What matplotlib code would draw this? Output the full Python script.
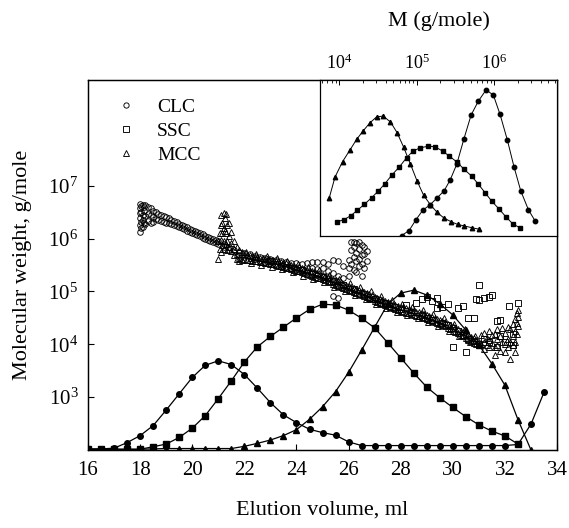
import matplotlib
matplotlib.use('Agg')
import matplotlib.pyplot as plt
import numpy as np
from matplotlib.lines import Line2D
from matplotlib.ticker import NullLocator, LogLocator, NullFormatter

plt.rcParams['font.family'] = 'Liberation Serif'
plt.rcParams['mathtext.fontset'] = 'custom'
plt.rcParams['mathtext.rm'] = 'Liberation Serif'
plt.rcParams['axes.linewidth'] = 0.9

# --- elution profiles (arbitrary units, 0 = baseline, 1 = top of frame) ---
clc_peak_ml = [16, 16.5, 17, 17.5, 18, 18.5, 19, 19.5, 20, 20.5, 21, 21.5, 22, 22.5, 23, 23.5,
               24, 24.5, 25, 25.5, 26, 26.5, 27, 27.5, 28, 28.5, 29, 29.5, 30, 30.5, 31, 31.5,
               32, 32.5, 33, 33.5]
clc_peak = [0.003, 0.003, 0.005, 0.020, 0.039, 0.066, 0.108, 0.152, 0.196, 0.229, 0.241, 0.231,
            0.204, 0.167, 0.128, 0.095, 0.074, 0.056, 0.047, 0.040, 0.022, 0.012, 0.012, 0.012,
            0.012, 0.012, 0.012, 0.012, 0.012, 0.012, 0.012, 0.012, 0.012, 0.015, 0.070, 0.156]

ssc_peak_ml = [16, 16.5, 17, 17.5, 18, 18.5, 19, 19.5, 20, 20.5, 21, 21.5, 22, 22.5, 23, 23.5,
               24, 24.5, 25, 25.5, 26, 26.5, 27, 27.5, 28, 28.5, 29, 29.5, 30, 30.5, 31, 31.5,
               32, 32.5]
ssc_peak = [0.002, 0.002, 0.002, 0.002, 0.002, 0.009, 0.016, 0.034, 0.059, 0.093, 0.139, 0.187,
            0.238, 0.279, 0.307, 0.332, 0.357, 0.380, 0.394, 0.392, 0.378, 0.356, 0.330, 0.290,
            0.249, 0.208, 0.170, 0.141, 0.115, 0.090, 0.068, 0.051, 0.038, 0.016]

mcc_peak_ml = [16, 16.5, 17, 17.5, 18, 18.5, 19, 19.5, 20, 20.5, 21, 21.5, 22, 22.5, 23, 23.5,
               24, 24.5, 25, 25.5, 26, 26.5, 27, 27.5, 28, 28.5, 29, 29.5, 30, 30.5, 31, 31.5,
               32, 32.5, 33]
mcc_peak = [0.002, 0.002, 0.002, 0.002, 0.002, 0.003, 0.004, 0.004, 0.004, 0.004, 0.004, 0.004,
            0.010, 0.018, 0.027, 0.039, 0.055, 0.083, 0.117, 0.158, 0.210, 0.270, 0.332, 0.394,
            0.424, 0.432, 0.419, 0.395, 0.365, 0.324, 0.284, 0.233, 0.175, 0.082, 0.0]

# --- molecular weight vs elution volume (log10 M) ---
clc_ml = [18.0, 18.0, 18.0, 18.0, 18.0, 18.0,
          18.05, 18.05, 18.05, 18.05,
          18.1, 18.1, 18.1, 18.1,
          18.15, 18.15, 18.15,
          18.2, 18.2, 18.2,
          18.3, 18.3, 18.3,
          18.4, 18.4, 18.4,
          18.5, 18.5, 18.5,
          18.6, 18.6, 18.7, 18.7, 18.8, 18.8, 18.9, 18.9,
          19.0, 19.0, 19.1, 19.1, 19.2, 19.2, 19.3, 19.3, 19.4, 19.4,
          19.5, 19.5, 19.6, 19.6, 19.7, 19.7, 19.8, 19.8, 19.9, 19.9,
          20.0, 20.0, 20.1, 20.1, 20.2, 20.2, 20.3, 20.3, 20.4, 20.4,
          20.5, 20.5, 20.6, 20.6, 20.7, 20.7, 20.8, 20.8, 20.9, 20.9,
          21.0, 21.0, 21.2, 21.2, 21.4, 21.4, 21.6, 21.6, 21.8, 21.8,
          22.0, 22.0, 22.2, 22.2, 22.4, 22.4, 22.6, 22.6, 22.8, 22.8,
          23.0, 23.0, 23.2, 23.2, 23.4, 23.4, 23.6, 23.6, 23.8, 23.8,
          24.0, 24.0, 24.2, 24.2, 24.4, 24.4,
          24.6, 24.6, 24.6, 24.8, 24.8, 24.8, 25.0, 25.0, 25.0,
          25.2, 25.2, 25.2, 25.4, 25.4, 25.4, 25.4,
          25.6, 25.6, 25.6, 25.6, 25.8, 25.8, 25.8,
          26.0, 26.0, 26.0, 26.0, 26.1, 26.1, 26.1,
          26.2, 26.2, 26.2, 26.2, 26.2, 26.3, 26.3, 26.3, 26.3,
          26.4, 26.4, 26.4, 26.4, 26.5, 26.5, 26.5, 26.5, 26.5,
          26.6, 26.6, 26.6, 26.7, 26.7, 26.8, 26.8,
          27.0, 27.0, 27.2, 27.2, 27.4, 27.4]
clc_logm = [6.66, 6.58, 6.48, 6.38, 6.25, 6.13,
            6.62, 6.50, 6.32, 6.20,
            6.64, 6.45, 6.36, 6.22,
            6.60, 6.52, 6.30,
            6.63, 6.42, 6.28,
            6.60, 6.47, 6.33,
            6.58, 6.44, 6.30,
            6.52, 6.40, 6.32,
            6.50, 6.37, 6.46, 6.35, 6.44, 6.33, 6.42, 6.32,
            6.40, 6.30, 6.38, 6.29, 6.36, 6.28, 6.33, 6.26, 6.31, 6.24,
            6.28, 6.22, 6.26, 6.20, 6.24, 6.18, 6.21, 6.15, 6.18, 6.13,
            6.16, 6.10, 6.14, 6.08, 6.12, 6.06, 6.10, 6.04, 6.08, 6.02,
            6.05, 6.00, 6.03, 5.98, 6.01, 5.96, 5.99, 5.94, 5.97, 5.92,
            5.95, 5.90, 5.90, 5.85, 5.84, 5.79, 5.79, 5.74, 5.75, 5.69,
            5.72, 5.66, 5.70, 5.63, 5.67, 5.61, 5.65, 5.58, 5.63, 5.56,
            5.61, 5.54, 5.59, 5.52, 5.57, 5.50, 5.56, 5.47, 5.54, 5.44,
            5.53, 5.42, 5.52, 5.40, 5.53, 5.37,
            5.55, 5.35, 5.44, 5.56, 5.31, 5.42, 5.56, 5.27, 5.45,
            5.52, 5.23, 5.38, 5.60, 5.18, 5.34, 4.92,
            5.58, 5.14, 5.30, 4.88, 5.48, 5.10, 5.25,
            5.60, 5.06, 5.30, 5.44, 5.93, 5.78, 5.52,
            5.94, 5.84, 5.66, 5.40, 5.02, 5.91, 5.72, 5.58, 5.36,
            5.94, 5.80, 5.62, 5.48, 5.88, 5.68, 5.52, 5.30, 4.97,
            5.84, 5.70, 5.44, 5.76, 5.58, 4.90, 4.86,
            4.87, 4.83, 4.83, 4.79, 4.79, 4.76]

mcc_ml = [21.0, 21.0, 21.05, 21.05, 21.1, 21.1, 21.1, 21.1,
          21.15, 21.15, 21.15, 21.2, 21.2, 21.2, 21.2,
          21.25, 21.25, 21.3, 21.3, 21.3, 21.35, 21.35, 21.35,
          21.4, 21.4, 21.4, 21.5, 21.5, 21.5,
          21.6, 21.6, 21.6, 21.7, 21.7, 21.7,
          21.8, 21.8, 21.8, 21.9, 21.9,
          22.0, 22.0, 22.1, 22.1, 22.2, 22.2, 22.3, 22.3, 22.4, 22.4,
          22.5, 22.5, 22.6, 22.6, 22.7, 22.7, 22.8, 22.8, 22.9, 22.9,
          23.0, 23.0, 23.1, 23.1, 23.2, 23.2, 23.3, 23.3, 23.4, 23.4,
          23.5, 23.5, 23.6, 23.6, 23.7, 23.7, 23.8, 23.8, 23.9, 23.9,
          24.0, 24.0, 24.1, 24.1, 24.2, 24.2, 24.3, 24.3, 24.4, 24.4,
          24.5, 24.5, 24.6, 24.6, 24.7, 24.7, 24.8, 24.8, 24.9, 24.9,
          25.0, 25.0, 25.1, 25.1, 25.2, 25.2, 25.3, 25.3, 25.4, 25.4,
          25.5, 25.5, 25.6, 25.6, 25.7, 25.7, 25.8, 25.8, 25.9, 25.9,
          26.0, 26.0, 26.1, 26.1, 26.2, 26.2, 26.3, 26.3, 26.4, 26.4,
          26.5, 26.5, 26.6, 26.6, 26.7, 26.7, 26.8, 26.8, 26.9, 26.9,
          27.0, 27.0, 27.1, 27.1, 27.2, 27.2, 27.3, 27.3, 27.4, 27.4,
          27.5, 27.5, 27.6, 27.6, 27.7, 27.7, 27.8, 27.8, 27.9, 27.9,
          28.0, 28.0, 28.1, 28.1, 28.2, 28.2, 28.3, 28.3, 28.4, 28.4,
          28.5, 28.5, 28.6, 28.6, 28.7, 28.7, 28.8, 28.8, 28.9, 28.9,
          29.0, 29.0, 29.1, 29.1, 29.2, 29.2, 29.3, 29.3, 29.4, 29.4,
          29.5, 29.5, 29.6, 29.6, 29.7, 29.7, 29.8, 29.8, 29.9, 29.9,
          30.0, 30.0, 30.1, 30.1, 30.2, 30.2, 30.3, 30.3, 30.4, 30.4,
          30.5, 30.5, 30.6, 30.6, 30.7, 30.7, 30.8, 30.8, 30.9, 30.9,
          31.0, 31.0, 31.1, 31.1, 31.2, 31.2, 31.2,
          31.3, 31.3, 31.4, 31.4, 31.4, 31.5, 31.5,
          31.6, 31.6, 31.6, 31.7, 31.7, 31.7, 31.8, 31.8,
          31.9, 31.9, 32.0, 32.0, 32.0, 32.1, 32.1, 32.1,
          32.2, 32.2, 32.2, 32.3, 32.3, 32.3,
          32.4, 32.4, 32.4, 32.4, 32.45, 32.45, 32.45, 32.5, 32.5, 32.5,
          22.05, 22.25, 22.45, 22.65, 22.85, 23.05, 23.25, 23.45, 23.65, 23.85,
          24.05, 24.25, 24.45, 24.65, 24.85, 25.05, 25.25, 25.45, 25.65, 25.85,
          26.05, 26.25, 26.45, 26.65, 26.85, 27.05, 27.25, 27.45, 27.65, 27.85,
          28.05, 28.25, 28.45, 28.65, 28.85, 29.05, 29.25, 29.45, 29.65, 29.85,
          30.05, 30.25, 30.45, 30.65, 30.85]
mcc_logm = [5.95, 5.62, 6.10, 5.80, 6.44, 6.25, 5.98, 5.75,
            6.30, 6.10, 5.88, 6.48, 6.20, 5.95, 5.80,
            6.38, 6.15, 6.46, 6.10, 5.90, 6.25, 5.95, 5.78,
            6.30, 6.05, 5.85, 6.12, 5.92, 5.76,
            5.95, 5.80, 5.68, 5.85, 5.70, 5.62,
            5.78, 5.64, 5.58, 5.74, 5.60,
            5.71, 5.61, 5.69, 5.60, 5.69, 5.59, 5.67, 5.58, 5.66, 5.57,
            5.66, 5.57, 5.64, 5.56, 5.63, 5.55, 5.62, 5.54, 5.61, 5.53,
            5.60, 5.52, 5.59, 5.51, 5.58, 5.50, 5.57, 5.49, 5.56, 5.48,
            5.54, 5.46, 5.53, 5.45, 5.52, 5.44, 5.50, 5.42, 5.49, 5.41,
            5.47, 5.39, 5.46, 5.38, 5.44, 5.36, 5.43, 5.35, 5.41, 5.33,
            5.39, 5.31, 5.38, 5.30, 5.36, 5.28, 5.34, 5.26, 5.33, 5.25,
            5.31, 5.23, 5.29, 5.21, 5.27, 5.19, 5.25, 5.17, 5.23, 5.15,
            5.21, 5.13, 5.19, 5.11, 5.17, 5.09, 5.15, 5.07, 5.13, 5.05,
            5.11, 5.03, 5.09, 5.01, 5.07, 4.99, 5.05, 4.97, 5.03, 4.95,
            5.01, 4.93, 4.99, 4.91, 4.97, 4.89, 4.95, 4.87, 4.93, 4.85,
            4.90, 4.82, 4.88, 4.80, 4.86, 4.78, 4.84, 4.76, 4.82, 4.74,
            4.80, 4.72, 4.78, 4.70, 4.76, 4.68, 4.74, 4.66, 4.73, 4.65,
            4.71, 4.63, 4.70, 4.62, 4.68, 4.60, 4.67, 4.59, 4.65, 4.57,
            4.64, 4.56, 4.62, 4.54, 4.61, 4.53, 4.59, 4.51, 4.57, 4.49,
            4.56, 4.48, 4.54, 4.46, 4.52, 4.44, 4.50, 4.42, 4.48, 4.40,
            4.46, 4.38, 4.44, 4.36, 4.42, 4.34, 4.39, 4.31, 4.37, 4.29,
            4.34, 4.26, 4.31, 4.23, 4.29, 4.21, 4.26, 4.18, 4.23, 4.15,
            4.20, 4.12, 4.17, 4.09, 4.14, 4.06, 4.11, 4.03, 4.08, 4.00,
            4.05, 3.98, 4.18, 4.00, 4.22, 4.05, 3.92,
            4.12, 3.98, 4.25, 4.08, 3.95, 4.18, 4.02,
            4.20, 3.95, 3.80, 4.28, 4.10, 3.98, 4.15, 3.88,
            4.30, 4.05, 4.22, 4.00, 3.85, 4.32, 4.10, 3.95,
            4.28, 4.05, 3.72, 4.38, 4.15, 3.98,
            4.48, 4.25, 4.05, 3.86, 4.60, 4.40, 4.20, 4.65, 4.52, 4.35,
            5.75, 5.54, 5.71, 5.50, 5.67, 5.46, 5.64, 5.42, 5.58, 5.36,
            5.52, 5.30, 5.46, 5.24, 5.40, 5.17, 5.32, 5.09, 5.24, 5.01,
            5.16, 4.93, 5.08, 4.86, 5.00, 4.76, 4.91, 4.69, 4.83, 4.62,
            4.76, 4.55, 4.70, 4.49, 4.64, 4.43, 4.57, 4.35, 4.49, 4.26,
            4.39, 4.15, 4.28, 4.04, 4.16]

ssc_ml = [23.0, 23.4, 23.8, 24.2, 24.6, 25.0, 25.4, 25.8,
          26.2, 26.6, 27.0, 27.4, 27.8, 28.0, 28.2, 28.4,
          28.6, 28.8, 28.8, 29.0, 29.0, 29.2, 29.2, 29.4, 29.4,
          29.6, 29.6, 29.8, 29.8, 30.0, 30.0, 30.2, 30.2,
          30.4, 30.4, 30.5, 30.6, 30.6, 30.8, 30.8, 30.9,
          31.0, 31.0, 31.0, 31.2, 31.2, 31.4, 31.4, 31.5,
          31.7, 31.7, 31.8, 31.8, 32.0, 32.15, 32.3, 32.3, 32.5]
ssc_logm = [5.58, 5.48, 5.45, 5.40, 5.33, 5.27, 5.20, 5.12,
            5.04, 4.96, 4.86, 4.78, 4.70, 4.67, 4.74, 4.62,
            4.78, 4.56, 4.85, 4.90, 4.50, 4.82, 4.46, 4.88, 4.68,
            4.40, 4.70, 4.36, 4.76, 4.30, 3.95, 4.68, 4.25,
            4.72, 4.18, 3.86, 4.50, 4.10, 4.49, 4.06, 4.86,
            5.12, 4.83, 4.00, 4.88, 4.10, 4.90, 4.05, 4.93,
            4.45, 3.95, 4.46, 4.16, 4.05, 4.72, 3.98, 4.20, 4.78]

# --- inset: molecular weight distributions (log10 M, relative height) ---
in_mcc_logm = [3.871, 3.945, 4.043, 4.138, 4.224, 4.309, 4.395, 4.481, 4.566, 4.661, 4.746,
               4.832, 4.918, 5.003, 5.089, 5.175, 5.260, 5.346, 5.445, 5.530, 5.616, 5.715, 5.800]
in_mcc = [0.244, 0.377, 0.477, 0.551, 0.619, 0.674, 0.725, 0.763, 0.769, 0.731, 0.663,
          0.568, 0.462, 0.354, 0.261, 0.201, 0.153, 0.117, 0.091, 0.074, 0.064, 0.053, 0.044]

in_ssc_logm = [3.968, 4.062, 4.148, 4.234, 4.324, 4.419, 4.505, 4.591, 4.677, 4.776, 4.871,
               4.956, 5.043, 5.150, 5.236, 5.335, 5.421, 5.516, 5.610, 5.710, 5.795, 5.881,
               5.968, 6.066, 6.152, 6.239, 6.333]
in_ssc = [0.090, 0.105, 0.130, 0.165, 0.203, 0.246, 0.289, 0.336, 0.390, 0.443, 0.503,
          0.546, 0.565, 0.576, 0.572, 0.544, 0.512, 0.475, 0.428, 0.383, 0.332, 0.278,
          0.223, 0.171, 0.122, 0.078, 0.052]

in_clc_logm = [4.806, 4.901, 4.991, 5.077, 5.172, 5.258, 5.352, 5.430, 5.516, 5.610, 5.701,
               5.795, 5.894, 5.988, 6.075, 6.169, 6.255, 6.342, 6.440, 6.530]
in_clc = [0.003, 0.035, 0.105, 0.165, 0.200, 0.242, 0.289, 0.358, 0.460, 0.625, 0.775,
          0.865, 0.936, 0.904, 0.779, 0.615, 0.443, 0.289, 0.169, 0.094]


fig = plt.figure(figsize=(5.69, 5.28), dpi=100)
ax = fig.add_axes([0.1547, 0.1477, 0.8243, 0.7008])

scat = dict(linestyle='none', mfc='none', mec='black', mew=0.65)
ax.plot(clc_ml, 10 ** np.array(clc_logm), marker='o', ms=4.0, **scat)
ax.plot(mcc_ml, 10 ** np.array(mcc_logm), marker='^', ms=4.0, **scat)
ax.plot(ssc_ml, 10 ** np.array(ssc_logm), marker='s', ms=3.8, **scat)

ax.set_yscale('log')
ax.set_ylim(1e2, 1e9)
ax.set_xlim(16, 34)
ax.set_xticks(range(16, 35, 2))
ax.set_yticks([1e3, 1e4, 1e5, 1e6, 1e7])
ax.yaxis.set_minor_locator(NullLocator())
ax.tick_params(axis='both', which='major', direction='in', labelsize=15, length=4.5, width=0.8)
ax.tick_params(axis='x', pad=8)
ax.tick_params(axis='y', pad=7)
ax.set_xlabel('Elution volume, ml', fontsize=16, labelpad=15)
ax.set_ylabel('Molecular weight, g/mole', fontsize=16, labelpad=12)

handles = [Line2D([], [], marker=m, ms=3.8, **scat) for m in ['o', 's', '^']]
ax.legend(handles, ['CLC', 'SSC', 'MCC'], loc='upper left', bbox_to_anchor=(0.06, 0.95),
          frameon=False, fontsize=14, handlelength=1.0, handletextpad=1.1,
          labelspacing=0.32, borderpad=0, borderaxespad=0)

# elution profiles on a linear scale without ticks
ax2 = ax.twinx()
ax2.set_ylim(0, 1)
ax2.set_yticks([])
line = dict(color='black', lw=0.9)
ax2.plot(clc_peak_ml, clc_peak, marker='o', ms=4, **line)
ax2.plot(ssc_peak_ml, ssc_peak, marker='s', ms=3.8, **line)
ax2.plot(mcc_peak_ml, mcc_peak, marker='^', ms=4, **line)

# inset
ax_in = fig.add_axes([0.5624, 0.553, 0.4166, 0.2955])
ax_in.set_facecolor('white')
thin = dict(color='black', lw=0.7)
ax_in.plot(10 ** np.array(in_mcc_logm), in_mcc, marker='^', ms=3.2, **thin)
ax_in.plot(10 ** np.array(in_ssc_logm), in_ssc, marker='s', ms=3.0, **thin)
ax_in.plot(10 ** np.array(in_clc_logm), in_clc, marker='o', ms=3.2, **thin)
ax_in.set_xscale('log')
ax_in.set_xlim(10 ** 3.752, 10 ** 6.81)
ax_in.set_ylim(0, 1)
ax_in.set_yticks([])
ax_in.set_xticks([1e4, 1e5, 1e6])
ax_in.xaxis.set_minor_locator(LogLocator(base=10, subs=range(2, 10)))
ax_in.xaxis.set_minor_formatter(NullFormatter())
ax_in.xaxis.tick_top()
ax_in.xaxis.set_label_position('top')
ax_in.tick_params(axis='x', which='major', direction='in', labelsize=13, length=3.5, width=0.7, pad=5)
ax_in.tick_params(axis='x', which='minor', direction='in', length=2, width=0.6)
ax_in.set_xlabel('M (g/mole)', fontsize=16, labelpad=20)

fig.savefig('out.png', dpi=100)
